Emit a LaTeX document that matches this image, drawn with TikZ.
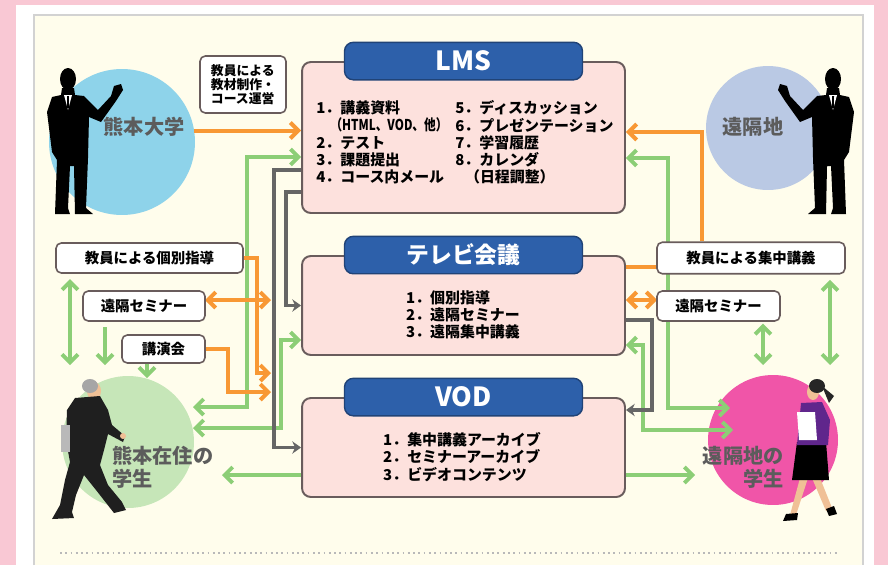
\documentclass[tikz,border=0pt]{standalone}
\usepackage{fontspec}
\setmainfont{Noto Sans CJK JP}
\usetikzlibrary{positioning,arrows.meta}

\definecolor{pinkbg}{RGB}{249,200,212}
\definecolor{cream}{RGB}{255,253,236}
\definecolor{boxfill}{RGB}{253,225,221}
\definecolor{boxline}{RGB}{105,92,92}
\definecolor{headblue}{RGB}{45,96,170}
\definecolor{orng}{RGB}{248,152,52}
\definecolor{leaf}{RGB}{140,206,118}
\definecolor{slate}{RGB}{102,102,102}
\definecolor{capgray}{RGB}{92,92,92}
\definecolor{skyc}{RGB}{142,211,234}
\definecolor{lavc}{RGB}{186,201,228}
\definecolor{mintc}{RGB}{198,230,184}
\definecolor{rosec}{RGB}{240,85,168}
\definecolor{skin}{RGB}{240,192,150}
\definecolor{plum}{RGB}{96,38,140}

\pgfdeclarelayer{bg}
\pgfdeclarelayer{links}
\pgfsetlayers{bg,links,main}

% presenter in a suit, facing right
\newcommand{\suitman}{%
  \fill[black] (68,79) ellipse[x radius=8, y radius=11];
  \fill[black] (62,88) -- (74,88) -- (75,95) -- (84,96) -- (98,110) -- (111,96)
    -- (114,86) -- (121,84) -- (123,90) -- (116,101) -- (101,122) -- (89,117)
    -- (88,158) -- (86,208) -- (93,214) -- (75,214) -- (74,166) -- (70,166)
    -- (68,208) -- (70,214) -- (55,214) -- (57,160) -- (52,152) -- (47,112)
    -- (52,97) -- (61,95) -- cycle;
  \fill[white] (64,95) -- (72,95) -- (68,110) -- cycle;
  \fill[black] (67,96) -- (69,96) -- (68.8,108) -- (67.2,108) -- cycle;
}

\begin{document}
\begin{tikzpicture}[x=0.02cm, y=-0.02cm,
    font=\bfseries,
    >={Straight Barb[length=4.5pt,width=9pt]},
    oline/.style={draw=orng, line width=2.3pt},
    gline/.style={draw=leaf, line width=2.2pt},
    kline/.style={draw=slate, line width=2.2pt, -{Stealth[length=5pt,width=7pt]}},
    sbox/.style={draw=boxline, line width=1.1pt, fill=boxfill, rounded corners=5pt, minimum width=6.46cm},
    shead/.style={draw=headblue!70!black, line width=0.8pt, fill=headblue, rounded corners=5pt,
      minimum width=4.76cm, minimum height=0.75cm, text=white},
    tag/.style={draw=boxline, line width=0.9pt, fill=white, rounded corners=3pt,
      minimum height=0.6cm, inner sep=1pt, font=\bfseries\fontsize{8.2}{9}\selectfont},
    items/.style={align=left, inner sep=0pt, font=\bfseries\fontsize{8.5}{9.8}\selectfont},
    place/.style={text=capgray, inner sep=0pt, font=\bfseries\fontsize{11.5}{13}\selectfont},
    spot/.style={circle, inner sep=0pt}
  ]
  \useasboundingbox (0,0) rectangle (888,565);

  % page background and places
  \begin{pgfonlayer}{bg}
    \fill[pinkbg] (0,0) rectangle (888,565);
    \fill[white] (16,5) rectangle (874,565);
    \fill[cream] (34,15) rectangle (863,565);
    \draw[gray!35, line width=0.6pt] (34,565) -- (34,15) -- (863,15) -- (863,565);
    \draw[gray!55, dotted, line width=1pt] (60,553) -- (838,553);
    \node[spot, fill=skyc, minimum size=2.92cm] (kudai) at (122,142) {};
    \node[spot, fill=lavc, minimum size=2.48cm] (enkaku) at (768,128) {};
    \node[spot, fill=mintc, minimum size=2.64cm] (zaiju) at (128,442) {};
    \node[spot, fill=rosec, minimum size=2.6cm] (student) at (773,440) {};
  \end{pgfonlayer}

  % service boxes
  \node[sbox, minimum height=3.02cm] (lms) at (463.5,137.5) {};
  \node[sbox, minimum height=1.98cm] (tv) at (463.5,305.5) {};
  \node[sbox, minimum height=1.98cm] (vod) at (463.5,447.5) {};
  \node[shead, font=\bfseries\fontsize{15}{15}\selectfont] (lmshead) at (lms.north) {LMS};
  \node[shead, font=\bfseries\fontsize{13}{13}\selectfont] (tvhead) at (tv.north) {テレビ会議};
  \node[shead, font=\bfseries\fontsize{15}{15}\selectfont] (vodhead) at (vod.north) {VOD};

  \node[items, anchor=west] (lmsleft) at (316,142.5)
    {1．講義資料\\\hspace*{0.95em}\scalebox{0.78}[1]{（HTML、VOD、他）}\\2．テスト\\3．課題提出\\4．コース内メール};
  \node[items, anchor=west] (lmsright) at (455,142.5)
    {5．ディスカッション\\6．プレゼンテーション\\7．学習履歴\\8．カレンダ\\\hspace*{0.65em}（日程調整）};
  \node[items] (tvlist) at (463,315) {1．個別指導\\2．遠隔セミナー\\3．遠隔集中講義};
  \node[items] (vodlist) at (462,457) {1．集中講義アーカイブ\\2．セミナーアーカイブ\\3．ビデオコンテンツ};

  % label boxes
  \node[tag, minimum width=1.72cm, minimum height=1.14cm, align=left,
    font=\bfseries\fontsize{7.3}{8}\selectfont] (seisaku) at (243,84.5) {教員による\\教材制作・\\コース運営};
  \node[tag, minimum width=3.74cm] (kobetsu) at (149.5,258) {教員による個別指導};
  \node[tag, minimum width=2.44cm] (semiL) at (144,306) {遠隔セミナー};
  \node[tag, minimum width=1.66cm, minimum height=0.56cm] (koenkai) at (163.5,349) {講演会};
  \node[tag, minimum width=3.76cm, minimum height=0.63cm] (shuchu) at (751,258) {教員による集中講義};
  \node[tag, minimum width=2.46cm] (semiR) at (718.5,306) {遠隔セミナー};

  % free ends and corners
  \coordinate (o2) at (702,132);
  \coordinate (o3) at (657,267);
  \coordinate (o4) at (657,300);
  \coordinate (o5) at (257,373);
  \coordinate (o6) at (205,300);
  \coordinate (o7) at (228,392);
  \coordinate (gray) at (271,0);
  \coordinate (g1) at (247,157);
  \coordinate (g2) at (281,340);
  \coordinate (g7) at (668,158);
  \coordinate (g8) at (643,345);
  \coordinate (zaijuA) at (193,407);
  \coordinate (zaijuB) at (193,428);
  \coordinate (zaijuC) at (222,475);
  \coordinate (studA) at (730,408);
  \coordinate (studB) at (733,430);
  \coordinate (studC) at (695,475);
  \coordinate (v1) at (70,365);
  \coordinate (v2) at (105,365);
  \coordinate (v3) at (147,378);
  \coordinate (v4) at (763,365);
  \coordinate (v5) at (830,365);
  \coordinate (d1) at (274,170);
  \coordinate (d2) at (286,192);
  \coordinate (d3) at (652,320);
  \coordinate (d3b) at (652,410);

  \begin{pgfonlayer}{links}
    % green links
    \draw[gline, <->] (g1 -| lms.west) -- (g1) |- (zaijuA);
    \draw[gline, <->] (g2 -| tv.west) -- (g2) |- (zaijuB);
    \draw[gline, ->] (zaijuC -| vod.west) -- (zaijuC);
    \draw[gline, <->] (g7 -| lms.east) -- (g7) |- (studA);
    \draw[gline, <->] (g8 -| tv.east) -- (g8) |- (studB);
    \draw[gline, ->] (studC -| vod.east) -- (studC);
    \draw[gline, <->, shorten <=3pt] (v1 |- kobetsu.south) -- (v1);
    \draw[gline, ->, shorten <=3pt] (v2 |- semiL.south) -- (v2);
    \draw[gline, ->] (v3 |- koenkai.south) -- (v3);
    \draw[gline, <->, shorten <=1pt] (v4 |- semiR.south) -- (v4);
    \draw[gline, <->, shorten <=3pt] (v5 |- shuchu.south) -- (v5);

    % orange links
    \draw[oline, ->] (kudai.9) -- (kudai.9 -| lms.west);
    \draw[oline, ->] (o2 |- shuchu.north) -- (o2) -- (o2 -| lms.east);
    \draw[oline] (o3) -- (o3 -| tv.east);
    \draw[oline, <->] (o4) -- (o4 -| tv.east);
    \draw[oline, ->] (kobetsu.east) -| (o5) -- (o5 -| gray);
    \draw[oline, <->] (o6) -- (o6 -| gray);
    \draw[oline, ->] (koenkai.east) -| (o7) -- (o7 -| gray);

    % gray links
    \draw[kline] (d1 -| lms.west) -- (d1) |- (vod.west);
    \draw[kline] (d2 -| lms.west) -- (d2) |- (tv.west);
    \draw[kline] (d3 -| tv.east) -- (d3) |- (d3b -| vod.east);
  \end{pgfonlayer}

  % people
  \suitman
  \begin{scope}[shift={(901,0)}, xscale=-1]
    \suitman
  \end{scope}

  % walking man
  \fill[skin] (94,391) ellipse[x radius=7, y radius=9];
  \fill[gray!70] (90,386) ellipse[x radius=8, y radius=7];
  \fill[black!88] (75,398) -- (100,396) -- (108,410) -- (112,425) -- (125,436) -- (123,442)
    -- (108,434) -- (104,450) -- (100,465) -- (108,485) -- (122,502) -- (126,510)
    -- (114,513) -- (96,490) -- (84,475) -- (76,495) -- (72,512) -- (74,518)
    -- (52,519) -- (60,505) -- (65,480) -- (70,462) -- (66,440) -- (67,410) -- cycle;
  \fill[gray!55] (61,425) rectangle (70,452);
  \fill[skin] (123,436) circle[radius=3];

  % walking woman
  \fill[skin] (800,478) -- (808,478) -- (796,515) -- (790,515) -- cycle;
  \fill[skin] (812,478) -- (820,478) -- (832,508) -- (826,511) -- cycle;
  \fill[black] (786,514) -- (798,513) -- (797,520) -- (783,521) -- cycle;
  \fill[black] (826,509) -- (834,506) -- (837,514) -- (829,516) -- cycle;
  \fill[black] (797,442) -- (826,442) -- (829,480) -- (792,480) -- cycle;
  \fill[plum] (801,403) -- (822,402) -- (830,420) -- (828,445) -- (797,445) -- cycle;
  \fill[white] (797,412) -- (815,412) -- (817,440) -- (799,440) -- cycle;
  \fill[skin] (813,392) ellipse[x radius=6, y radius=8];
  \fill[black!85] (817,386) ellipse[x radius=8, y radius=7];
  \fill[black!85] (822,386) -- (834,396) -- (829,403) -- cycle;

  % place names
  \node[place] (kudaiT) at (144,127) {熊本大学};
  \node[place] (enkakuT) at (753,127) {遠隔地};
  \node[place, align=left, anchor=north west] (zaijuT) at (112,446) {熊本在住の\\学生};
  \node[place, align=right, anchor=north east] (studentT) at (784,446) {遠隔地の\\学生};
\end{tikzpicture}
\end{document}
